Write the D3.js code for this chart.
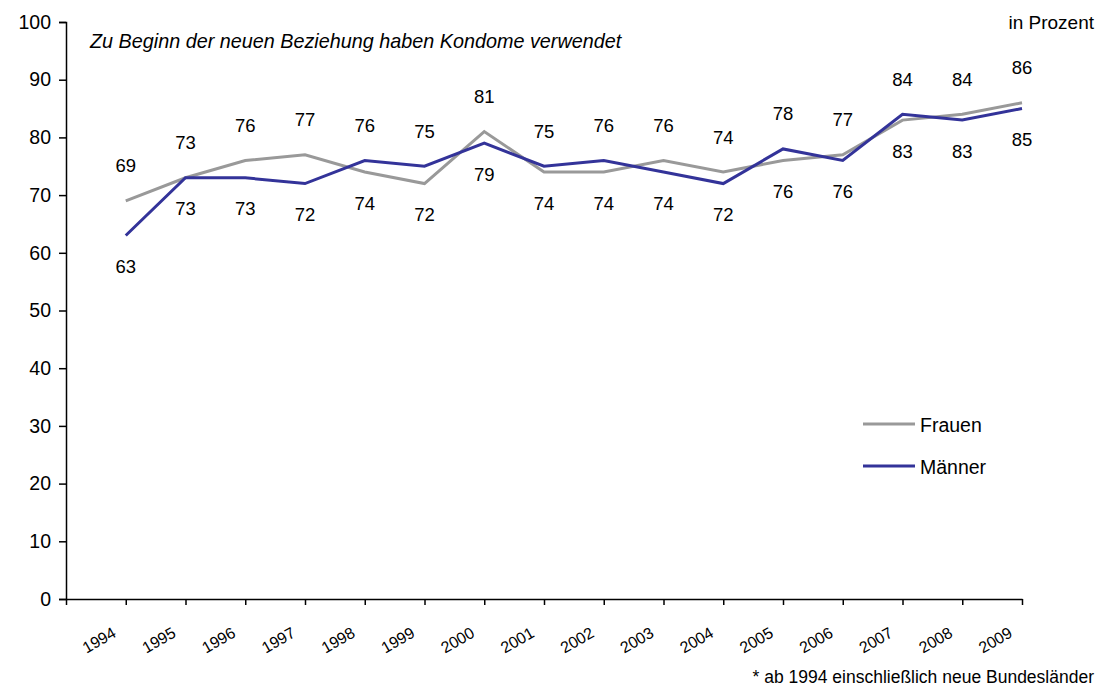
<!DOCTYPE html>
<html><head><meta charset="utf-8">
<script src="https://cdn.jsdelivr.net/npm/d3@7"></script>
<style>body{margin:0;background:#fff}svg{display:block}text{font-family:"Liberation Sans",Arial,sans-serif;fill:#000}</style>
</head><body>
<script>
const years = [1994,1995,1996,1997,1998,1999,2000,2001,2002,2003,2004,2005,2006,2007,2008,2009];
const frauen = [69,73,76,77,74,72,81,74,74,76,74,76,77,83,84,86];
const maenner = [63,73,73,72,76,75,79,75,76,74,72,78,76,84,83,85];
const yTicks = [0,10,20,30,40,50,60,70,80,90,100];
const seriesNames = ["Frauen","Männer"];
const seriesColors = ["#999999","#333399"];
const title = "Zu Beginn der neuen Beziehung haben Kondome verwendet";
const unitLabel = "in Prozent";
const footnote = "* ab 1994 einschließlich neue Bundesländer";

const W=1101,H=688;
const svg=d3.select("body").append("svg").attr("width",W).attr("height",H);
const x=d3.scaleLinear().domain([1993,2009]).range([66,1022]);
const y=d3.scaleLinear().domain([0,100]).range([599,22]);
const FF="Liberation Sans, Arial, sans-serif";

// y axis
const ya=svg.append("g").attr("transform","translate(66,0)")
  .call(d3.axisLeft(y).tickValues(yTicks).tickSize(7).tickPadding(8));
ya.select(".domain").attr("stroke","#000").attr("stroke-width",1.5);
ya.selectAll(".tick line").attr("stroke","#000").attr("stroke-width",1.5);
ya.selectAll(".tick text").attr("font-size",19.5).attr("font-family",FF).attr("fill","#000");

// x axis
const xa=svg.append("g").attr("transform","translate(0,599)")
  .call(d3.axisBottom(x).tickValues([1993].concat(years)).tickSize(6).tickFormat(d=>d===1993?"":d).tickSizeOuter(0));
xa.select(".domain").attr("stroke","#000").attr("stroke-width",1.5);
xa.selectAll(".tick line").attr("stroke","#000").attr("stroke-width",1.5);
xa.selectAll(".tick text").attr("font-size",16).attr("font-family",FF).attr("fill","#000")
  .attr("text-anchor","end").attr("dy",null).attr("y",null)
  .attr("transform","translate(-9,37) rotate(-30)");

// lines
const series=[frauen,maenner];
const line=d3.line().x((d,i)=>x(years[i])).y(d=>y(d));
series.forEach((s,k)=>{
  svg.append("path").datum(s).attr("d",line).attr("fill","none")
    .attr("stroke",seriesColors[k]).attr("stroke-width",3).attr("stroke-linejoin","miter");
});

// labels
years.forEach((yr,i)=>{
  const f=frauen[i], m=maenner[i];
  const fAbove = f>=m;
  const put=(v,above)=>{
    svg.append("text").attr("x",x(yr)).attr("y",above? y(v)-35 : y(v)+31)
      .attr("text-anchor","middle").attr("dominant-baseline","central")
      .attr("font-size",18.5).text(v);
  };
  put(f,fAbove); put(m,!fAbove);
});

// title etc
svg.append("text").attr("x",90).attr("y",48).attr("font-size",19.8).attr("font-style","italic").text(title);
svg.append("text").attr("x",1094).attr("y",29).attr("text-anchor","end").attr("font-size",19).text(unitLabel);
svg.append("text").attr("x",1094).attr("y",683).attr("text-anchor","end").attr("font-size",17.5).text(footnote);

// legend
const lg=svg.append("g");
seriesNames.forEach((n,k)=>{
  const yy=424+k*42;
  lg.append("line").attr("x1",863).attr("x2",915).attr("y1",yy).attr("y2",yy).attr("stroke",seriesColors[k]).attr("stroke-width",3);
  lg.append("text").attr("x",920).attr("y",yy+1).attr("dominant-baseline","central").attr("font-size",19.5).text(n);
});
</script>
</body></html>
